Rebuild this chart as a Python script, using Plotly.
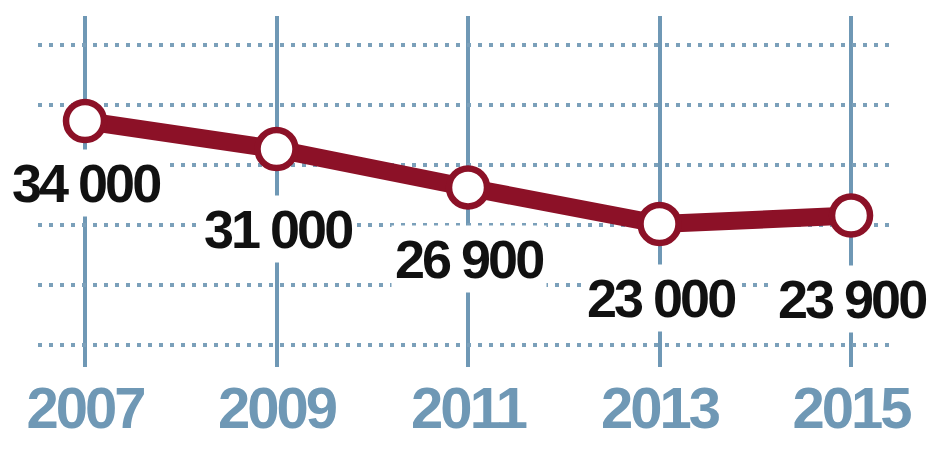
import plotly.graph_objects as go

years = [2007, 2009, 2011, 2013, 2015]
values = [34000, 31000, 26900, 23000, 23900]
year_labels = [str(y) for y in years]
value_labels = [f"{v:,}".replace(",", " ") for v in values]

# vertical drop (px) of each value label below its point
label_drop = [62, 80, 72, 74, 83]

RED = "#8C1127"
BLUE = "#6F98B5"
DOT = "#7BA0BA"
FONT = "Liberation Sans, Arial, Roboto, sans-serif"


def tight(s, px):
    return f'<span style="letter-spacing:{px}px">{s}</span>'


fig = go.Figure()
fig.add_trace(go.Scatter(
    x=years, y=values, mode="lines+markers",
    line=dict(color=RED, width=18),
    marker=dict(size=38, color="white", line=dict(color=RED, width=6.5)),
    hoverinfo="skip", showlegend=False,
))

for x, y, t, d in zip(years, values, value_labels, label_drop):
    fig.add_annotation(
        x=x, y=y, text=tight(t, -3), showarrow=False, yshift=-d, xshift=1,
        bgcolor="white", borderpad=3,
        font=dict(family=FONT, size=54, color="#111111", weight="bold"),
    )

fig.update_layout(
    width=932, height=456,
    margin=dict(l=30, r=50, t=8, b=97),
    paper_bgcolor="white", plot_bgcolor="white",
    xaxis=dict(
        range=[2006.509, 2015.407],
        tickvals=years, ticktext=[tight(t, -3) for t in year_labels],
        showgrid=True, gridcolor=BLUE, gridwidth=3.5,
        zeroline=False, showline=False, ticks="",
        ticklabelstandoff=2,
        tickfont=dict(family=FONT, size=58, color=BLUE, weight="bold"),
    ),
    yaxis=dict(
        range=[7729, 45213],
        tickmode="linear", tick0=10079, dtick=6407,
        showgrid=True, gridcolor=DOT, gridwidth=4, griddash="4px,7px",
        zeroline=False, showline=False, showticklabels=False, ticks="",
    ),
)

fig.write_html("out.html")
